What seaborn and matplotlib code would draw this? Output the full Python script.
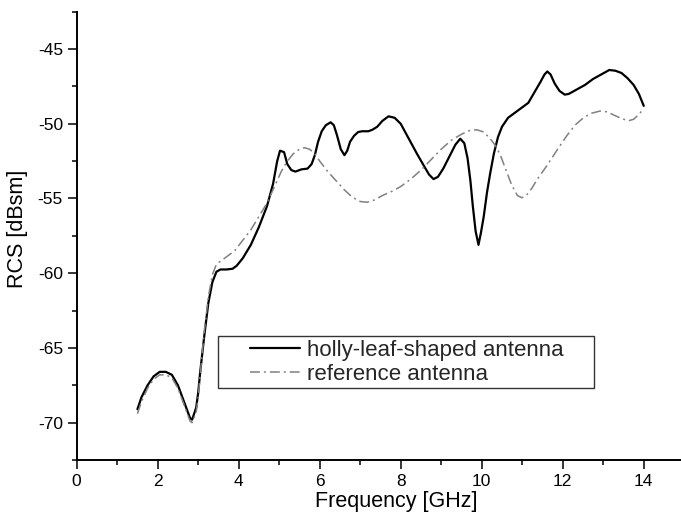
import matplotlib
matplotlib.use("Agg")
import matplotlib.pyplot as plt
from matplotlib.lines import Line2D
from matplotlib.legend_handler import HandlerLine2D
from matplotlib.ticker import MultipleLocator, AutoMinorLocator
import seaborn as sns
import pandas as pd

# Monostatic RCS versus frequency
holly_freq = [1.50, 1.60, 1.75, 1.90, 2.05, 2.20, 2.35, 2.50, 2.65, 2.80, 2.85, 2.95,
              3.00, 3.05, 3.15, 3.25, 3.35, 3.45, 3.55, 3.70, 3.85, 3.95, 4.10, 4.30,
              4.50, 4.70, 4.85, 4.95, 5.02, 5.12, 5.20, 5.30, 5.40, 5.55, 5.70, 5.80,
              5.88, 5.96, 6.05, 6.15, 6.27, 6.35, 6.43, 6.52, 6.61, 6.68, 6.75, 6.85,
              6.95, 7.05, 7.20, 7.30, 7.42, 7.55, 7.70, 7.85, 8.00, 8.20, 8.40, 8.57,
              8.70, 8.81, 8.92, 9.05, 9.20, 9.35, 9.47, 9.57, 9.65, 9.72, 9.78, 9.85,
              9.92, 9.98, 10.05, 10.13, 10.21, 10.30, 10.40, 10.50, 10.65, 10.80, 11.00,
              11.15, 11.30, 11.45, 11.55, 11.62, 11.70, 11.80, 11.92, 12.05, 12.15,
              12.35, 12.55, 12.75, 12.95, 13.15, 13.30, 13.45, 13.60, 13.75, 13.88, 14.00]
holly_rcs = [-69.1, -68.3, -67.5, -66.9, -66.6, -66.6, -66.8, -67.5, -68.6, -69.7, -69.8, -69.0,
             -68.0, -66.6, -64.2, -62.0, -60.6, -59.9, -59.75, -59.75, -59.7, -59.5, -59.0, -58.1,
             -56.9, -55.5, -54.0, -52.5, -51.8, -51.9, -52.7, -53.1, -53.2, -53.05, -53.0, -52.7,
             -52.1, -51.2, -50.5, -50.1, -49.9, -50.1, -50.8, -51.7, -52.1, -51.8, -51.2, -50.8,
             -50.55, -50.5, -50.5, -50.4, -50.2, -49.8, -49.5, -49.6, -50.0, -51.0, -52.0, -52.8,
             -53.4, -53.7, -53.55, -53.0, -52.2, -51.4, -51.0, -51.3, -52.3, -53.8, -55.5, -57.2,
             -58.1, -57.3, -56.2, -54.6, -53.3, -52.0, -50.9, -50.2, -49.6, -49.3, -48.9,
             -48.6, -47.9, -47.2, -46.7, -46.5, -46.7, -47.3, -47.8, -48.05, -48.0,
             -47.7, -47.4, -47.0, -46.7, -46.4, -46.45, -46.6, -46.95, -47.4, -48.0, -48.8]

ref_freq = [1.50, 1.60, 1.75, 1.90, 2.05, 2.20, 2.35, 2.50, 2.65, 2.80, 2.85, 2.95,
            3.00, 3.05, 3.15, 3.25, 3.35, 3.45, 3.60, 3.75, 3.90, 4.10, 4.30, 4.50,
            4.70, 4.90, 5.05, 5.20, 5.35, 5.50, 5.62, 5.75, 5.88, 6.00, 6.20, 6.40,
            6.60, 6.80, 7.00, 7.17, 7.35, 7.55, 7.80, 8.00, 8.25, 8.50, 8.75, 9.00,
            9.25, 9.50, 9.70, 9.88, 10.05, 10.21, 10.35, 10.46, 10.60, 10.74, 10.88,
            10.99, 11.10, 11.24, 11.40, 11.61, 11.85, 12.10, 12.30, 12.51, 12.70, 12.92,
            13.10, 13.25, 13.45, 13.62, 13.75, 13.85, 14.00]
ref_rcs = [-69.4, -68.6, -67.7, -67.1, -66.8, -66.8, -67.0, -67.7, -68.8, -69.9, -70.0, -69.3,
           -68.3, -66.8, -63.9, -61.6, -60.1, -59.4, -59.1, -58.8, -58.5, -57.8, -57.1, -56.2,
           -55.3, -54.1, -53.2, -52.5, -52.0, -51.7, -51.6, -51.7, -52.0, -52.5, -53.2, -53.8,
           -54.4, -54.9, -55.2, -55.25, -55.1, -54.8, -54.5, -54.2, -53.7, -53.1, -52.4, -51.7,
           -51.1, -50.7, -50.45, -50.4, -50.55, -51.0, -51.5, -52.1, -53.1, -54.1, -54.8,
           -54.95, -54.8, -54.3, -53.6, -52.8, -51.8, -50.8, -50.1, -49.6, -49.3, -49.15,
           -49.2, -49.4, -49.65, -49.8, -49.7, -49.45, -49.0]

series_labels = ["holly-leaf-shaped antenna", "reference antenna"]

holly_df = pd.DataFrame({"freq": holly_freq, "rcs": holly_rcs})
ref_df = pd.DataFrame({"freq": ref_freq, "rcs": ref_rcs})

sns.set_style("ticks")
plt.rcParams["font.family"] = ["Liberation Sans", "DejaVu Sans"]
plt.rcParams["axes.unicode_minus"] = False

fig = plt.figure(figsize=(6.81, 5.25), dpi=100)
ax = fig.add_axes([0.1126, 0.1238, 0.8874, 0.8539])

sns.lineplot(data=holly_df, x="freq", y="rcs", ax=ax, color="black",
             linewidth=1.6, label=series_labels[0], sort=False, estimator=None)
sns.lineplot(data=ref_df, x="freq", y="rcs", ax=ax, color="#808080",
             linewidth=1.1, linestyle=(0, (6.5, 2.6, 1.3, 2.6)),
             label=series_labels[1], sort=False, estimator=None)

ax.set_xlim(0, 14.92)
ax.set_ylim(-72.5, -42.5)
ax.xaxis.set_major_locator(MultipleLocator(2))
ax.xaxis.set_minor_locator(AutoMinorLocator(2))
ax.yaxis.set_major_locator(MultipleLocator(5))
ax.yaxis.set_minor_locator(AutoMinorLocator(2))

sns.despine(ax=ax)
for side in ("left", "bottom"):
    ax.spines[side].set_linewidth(1.4)
    ax.spines[side].set_color("black")

ax.tick_params(which="major", direction="out", length=6.5, width=1.1,
               labelsize=12.5, color="black", labelcolor="black")
ax.tick_params(axis="x", which="major", pad=3.6)
ax.tick_params(axis="y", which="major", pad=3.4)
ax.tick_params(which="minor", direction="out", length=3.6, width=1.1, color="black")

ax.set_xlabel("Frequency [GHz]", fontsize=15.5, color="black")
ax.set_ylabel("RCS [dBsm]", fontsize=15.5, color="black")
ax.xaxis.set_label_coords(0.529, -0.069)
ax.yaxis.set_label_coords(-0.080, 0.516)

leg = ax.legend(loc="upper left", bbox_to_anchor=(0.2338, 0.0, 0.6222, 0.2766),
                mode="expand", borderaxespad=0, fontsize=16, frameon=True,
                fancybox=False, edgecolor="#333333", framealpha=1,
                borderpad=0.16, labelspacing=0.14, handlelength=3.54,
                handletextpad=0.32,
                handler_map={Line2D: HandlerLine2D(xpad=1.29)})
leg.get_frame().set_linewidth(1.0)

fig.savefig("out.png", dpi=100)
